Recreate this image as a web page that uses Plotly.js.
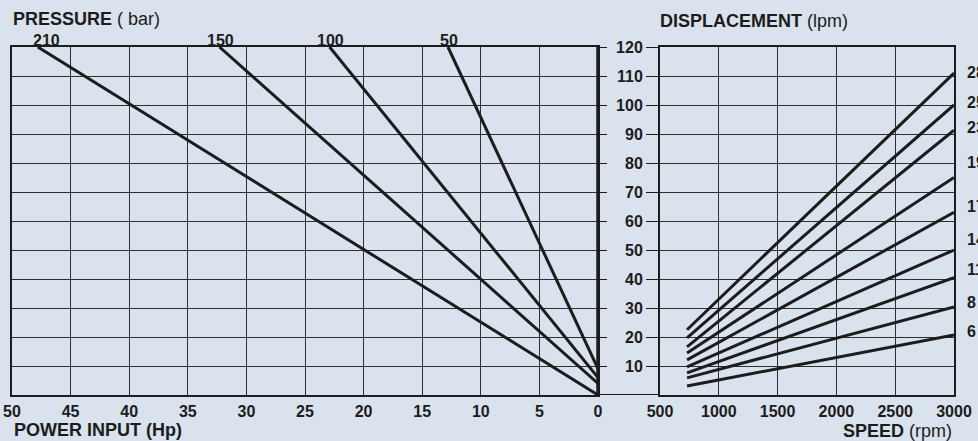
<!DOCTYPE html>
<html>
<head>
<meta charset="utf-8">
<script src="https://cdn.plot.ly/plotly-3.0.1.min.js"></script>
<style>html,body{margin:0;padding:0;background:#d9e2ed;}#chart{width:978px;height:441px;}</style>
</head>
<body>
<div id="chart"></div>
<script>
// ---- data ----
var powerTicks = [50, 45, 40, 35, 30, 25, 20, 15, 10, 5, 0];
var speedTicks = [500, 1000, 1500, 2000, 2500, 3000];
var flowTicks = [10, 20, 30, 40, 50, 60, 70, 80, 90, 100, 110, 120];

var pressureLabels = ['210', '150', '100', '50'];
var powerAtTopFlow = [47.8, 32.3, 22.9, 12.8];   // Hp where each pressure line meets 120 lpm
var topFlow = 120;
var flowAtZeroPower = [0, 4, 6, 9];             // lpm where each line meets 0 Hp

var displacementLabels = ['28', '25', '23', '19', '17', '14', '11', '8', '6'];
var speedStart = 730;
var speedEnd = 3000;
var flowAtStart = [22.5, 19.7, 16.6, 14.5, 12.1, 9.7, 7.6, 5.9, 3.1];
var flowAtEnd = [111, 100, 91.3, 75, 63, 50, 40.5, 30.4, 20.7];
var labelFlow = [111.3, 101, 92.3, 80.2, 65, 53.6, 43.2, 31.8, 21.8]; // where each displacement label sits

// ---- styling ----
var ink = '#1c1c1c';
var bg = '#d9e2ed';
var fam = 'Liberation Sans, Arial, sans-serif';
var tickFont = {family: fam, size: 16, color: ink, weight: 'bold'};

var traces = [];
for (var i = 0; i < pressureLabels.length; i++) {
  traces.push({
    type: 'scatter', mode: 'lines', xaxis: 'x', yaxis: 'y',
    x: [powerAtTopFlow[i], 0], y: [topFlow, flowAtZeroPower[i]],
    line: {color: ink, width: 3}, hoverinfo: 'skip', cliponaxis: false
  });
}
for (var j = 0; j < displacementLabels.length; j++) {
  traces.push({
    type: 'scatter', mode: 'lines', xaxis: 'x2', yaxis: 'y2',
    x: [speedStart, speedEnd], y: [flowAtStart[j], flowAtEnd[j]],
    line: {color: ink, width: 3}, hoverinfo: 'skip', cliponaxis: false
  });
}

var W = 978, H = 441;
var yDom = [(H - 395) / H, (H - 47) / H];

var annotations = [];
for (var i = 0; i < pressureLabels.length; i++) {
  annotations.push({
    xref: 'x', yref: 'y', x: powerAtTopFlow[i], y: topFlow,
    text: pressureLabels[i], showarrow: false, xanchor: 'center', yanchor: 'bottom',
    xshift: i === 0 ? 9 : 1, yshift: -3, borderpad: 0,
    font: {family: fam, size: 16, color: ink, weight: 'bold'}
  });
}
for (var j = 0; j < displacementLabels.length; j++) {
  annotations.push({
    xref: 'x2', yref: 'y2', x: speedEnd, y: labelFlow[j],
    text: displacementLabels[j], showarrow: false, xanchor: 'left', yanchor: 'middle',
    xshift: 12, borderpad: 0,
    font: {family: fam, size: 16, color: ink, weight: 'bold'}
  });
}
annotations.push(
  {xref: 'paper', yref: 'paper', x: 12 / W, y: (H - 19) / H, xanchor: 'left', yanchor: 'middle', borderpad: 0,
   text: '<b>PRESSURE</b> ( bar)', showarrow: false, font: {family: fam, size: 18, color: ink}},
  {xref: 'paper', yref: 'paper', x: 754 / W, y: (H - 21) / H, xanchor: 'center', yanchor: 'middle',
   text: '<b>DISPLACEMENT</b> (lpm)', showarrow: false, font: {family: fam, size: 18, color: ink}},
  {xref: 'paper', yref: 'paper', x: 12 / W, y: (H - 430) / H, xanchor: 'left', yanchor: 'middle',
   text: '<b>POWER INPUT (Hp)</b>', showarrow: false, font: {family: fam, size: 18, color: ink}},
  {xref: 'paper', yref: 'paper', x: 954 / W, y: (H - 431) / H, xanchor: 'right', yanchor: 'middle',
   text: '<b>SPEED</b> (rpm)', showarrow: false, font: {family: fam, size: 18, color: ink}}
);

var gridCommon = {showgrid: true, gridcolor: '#2e2e2e', gridwidth: 1, zeroline: false,
  showline: true, linecolor: ink, linewidth: 2, mirror: true, fixedrange: true};

var layout = {
  width: W, height: H, margin: {l: 0, r: 0, t: 0, b: 0},
  paper_bgcolor: bg, plot_bgcolor: bg, showlegend: false,
  xaxis: Object.assign({}, gridCommon, {
    domain: [12 / W, 598 / W], range: [50, 0], anchor: 'y',
    tickmode: 'array', tickvals: powerTicks, ticktext: powerTicks.map(String),
    ticks: '', tickfont: tickFont, ticklabelstandoff: 1
  }),
  yaxis: Object.assign({}, gridCommon, {
    domain: yDom, range: [0, 120], anchor: 'x', side: 'right',
    tickmode: 'array', tickvals: flowTicks, showticklabels: false,
    ticks: 'outside', ticklen: 7, tickcolor: ink, tickwidth: 1
  }),
  xaxis2: Object.assign({}, gridCommon, {
    domain: [660 / W, 954 / W], range: [500, 3000], anchor: 'y2',
    tickmode: 'array', tickvals: speedTicks, ticktext: speedTicks.map(String),
    ticks: '', tickfont: tickFont, ticklabelstandoff: 1
  }),
  yaxis2: Object.assign({}, gridCommon, {
    domain: yDom, range: [0, 120], anchor: 'x2', side: 'left',
    tickmode: 'array', tickvals: flowTicks, ticktext: flowTicks.map(String),
    ticks: 'outside', ticklen: 12, tickcolor: ink, tickwidth: 1, tickfont: tickFont,
    ticklabelstandoff: 0
  }),
  shapes: [
    {type: 'line', xref: 'x', yref: 'y domain', x0: 0, x1: 0, y0: 0, y1: 1,
     line: {color: ink, width: 3.5}},
    {type: 'line', xref: 'paper', yref: 'y', x0: 598 / W, x1: 660 / W, y0: 0, y1: 0,
     line: {color: ink, width: 2}}
  ],
  annotations: annotations
};

Plotly.newPlot('chart', traces, layout, {staticPlot: true, displayModeBar: false});
</script>
</body>
</html>
